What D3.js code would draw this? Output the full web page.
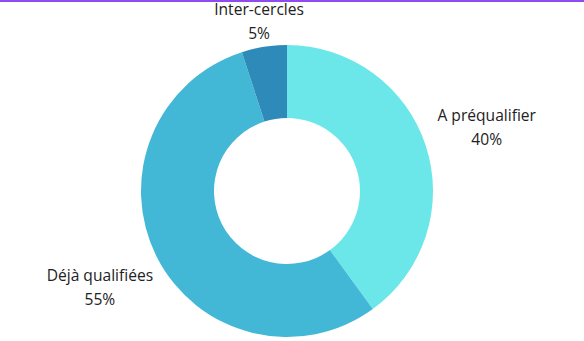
<!DOCTYPE html>
<html>
<head>
<meta charset="utf-8">
<script src="https://cdn.jsdelivr.net/npm/d3@7"></script>
<style>
  html, body { margin: 0; padding: 0; background: #fff; }
  body { width: 584px; height: 341px; overflow: hidden; border-top: 2px solid #8e4bf0; box-sizing: border-box; }
  svg { display: block; }
  .label text { font-family: "Open Sans", sans-serif; font-size: 15.6px; fill: #222; }
</style>
</head>
<body>
<svg id="chart"></svg>
<script>
'use strict';

// Data
const categories = ['A préqualifier', 'Déjà qualifiées', 'Inter-cercles'];
const values = [40, 55, 5];
const colors = ['#6be6e9', '#43b8d6', '#2e8bb9'];

const width = 584, height = 339;
const cx = 287, cy = 189;
const outerR = 146, innerR = 73, labelR = 210;

const svg = d3.select('#chart')
  .attr('width', width)
  .attr('height', height);

const g = svg.append('g')
  .attr('transform', `translate(${cx},${cy})`);

const pie = d3.pie()
  .value(d => d.value)
  .sort(null);

const arc = d3.arc()
  .innerRadius(innerR)
  .outerRadius(outerR);

const data = categories.map((c, i) => ({ name: c, value: values[i], color: colors[i] }));
const arcs = pie(data);
const total = d3.sum(values);

g.selectAll('path.slice')
  .data(arcs)
  .enter().append('path')
  .attr('class', 'slice')
  .attr('d', arc)
  .attr('fill', d => d.data.color);

// Labels outside the ring
const labels = g.selectAll('g.label')
  .data(arcs)
  .enter().append('g')
  .attr('class', 'label')
  .attr('transform', d => {
    const a = (d.startAngle + d.endAngle) / 2;
    let x = Math.sin(a) * labelR;
    let y = -Math.cos(a) * labelR;
    // keep labels inside the view
    if (y < -cy + 18) {
      y = -cy + 18;
      x = x * 0.85;
    }
    return `translate(${x},${y})`;
  });

labels.append('text')
  .attr('text-anchor', 'middle')
  .attr('y', -5)
  .text(d => d.data.name);

labels.append('text')
  .attr('text-anchor', 'middle')
  .attr('y', 19)
  .text(d => Math.round(d.data.value / total * 100) + '%');
</script>
</body>
</html>
